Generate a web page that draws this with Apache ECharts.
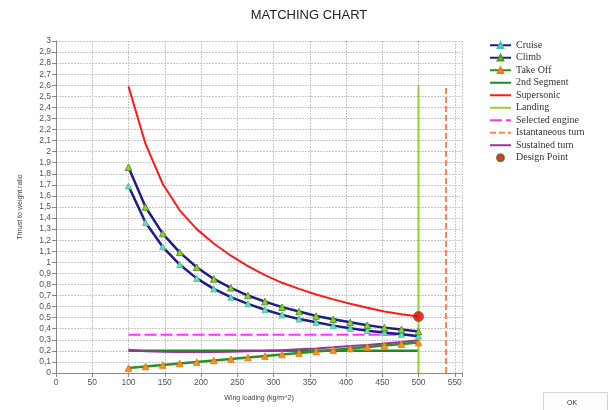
<!DOCTYPE html>
<html>
<head>
<meta charset="utf-8">
<script src="https://cdn.jsdelivr.net/npm/echarts@6/dist/echarts.min.js"></script>
<style>
  html, body { margin: 0; padding: 0; background: #ffffff; }
  #chart { width: 608px; height: 410px; }
</style>
</head>
<body>
<div id="chart"></div>
<script>
// Wing loading stations (kg/m^2)
const wingLoading = [100, 123.5, 147.1, 170.6, 194.1, 217.6, 241.2, 264.7, 288.2,
                     311.8, 335.3, 358.8, 382.4, 405.9, 429.4, 452.9, 476.5, 500];

// Thrust-to-weight requirement of each constraint
const cruise     = [1.69, 1.36, 1.14, 0.98, 0.855, 0.76, 0.685, 0.625, 0.572,
                    0.525, 0.488, 0.458, 0.428, 0.404, 0.382, 0.366, 0.35, 0.333];
const climb      = [1.86, 1.50, 1.26, 1.09, 0.955, 0.85, 0.77, 0.70, 0.645,
                    0.595, 0.555, 0.515, 0.485, 0.458, 0.432, 0.41, 0.393, 0.375];
const takeOff    = [0.045, 0.059, 0.072, 0.086, 0.099, 0.113, 0.126, 0.14, 0.153,
                    0.167, 0.18, 0.194, 0.207, 0.221, 0.234, 0.248, 0.261, 0.275];
const supersonic = [2.59, 2.07, 1.71, 1.47, 1.30, 1.17, 1.06, 0.965, 0.885,
                    0.815, 0.76, 0.71, 0.665, 0.625, 0.59, 0.555, 0.53, 0.51];
const sustained  = [0.21, 0.197, 0.192, 0.19, 0.19, 0.19, 0.192, 0.196, 0.2,
                    0.206, 0.214, 0.222, 0.232, 0.243, 0.254, 0.266, 0.28, 0.295];

// Constant / vertical constraints
const secondSegmentTW = 0.2;
const selectedEngineTW = 0.345;
const landingWS = 500;
const instTurnWS = 538;
const verticalTop = 2.6;

// Chosen design point [W/S, T/W]
const designPoint = [500, 0.51];

// Axis tick settings
const xTicks = { min: 0, max: 560, step: 50 };
const yTicks = { min: 0, max: 3, step: 0.1 };

const pair = (xs, ys) => xs.map((x, i) => [x, ys[i]]);
const flat = (xs, v) => [[xs[0], v], [xs[xs.length - 1], v]];

const navy = '#1c1c8c';
const sans = 'Liberation Sans, Arial, sans-serif';

// legend entries: plain-line entries hide their symbol
const plain = name => ({ name, itemStyle: { opacity: 0 } });

const chart = echarts.init(document.getElementById('chart'), null, { renderer: 'canvas' });

const option = {
  backgroundColor: '#ffffff',
  animation: false,
  title: {
    text: 'MATCHING CHART',
    left: 304, top: 4, textAlign: 'center',
    textStyle: { fontFamily: sans, fontSize: 13, fontWeight: 'normal', color: '#222' }
  },
  grid: { left: 56, top: 41, right: 146, bottom: 37, containLabel: false },
  legend: {
    orient: 'vertical',
    left: 484, top: 34,
    itemWidth: 21, itemHeight: 7, itemGap: 0,
    textStyle: { fontFamily: 'Liberation Serif, Times New Roman, serif', fontSize: 10, color: '#333', lineHeight: 12.5 },
    data: [
      'Cruise', 'Climb', 'Take Off',
      plain('2nd Segment'), plain('Supersonic'), plain('Landing'),
      plain('Selected engine'), plain('Istantaneous turn'), plain('Sustained turn'),
      'Design Point'
    ]
  },
  xAxis: {
    type: 'value',
    min: xTicks.min, max: xTicks.max, interval: xTicks.step,
    name: 'Wing loading (kg/m^2)', nameLocation: 'middle', nameGap: 22,
    nameTextStyle: { fontFamily: sans, fontSize: 7, color: '#444' },
    axisLine: { onZero: false, lineStyle: { color: '#888', width: 1 } },
    axisTick: { show: true, length: 4, lineStyle: { color: '#888' } },
    axisLabel: {
      fontFamily: sans, fontSize: 8.5, color: '#555', margin: 5,
      formatter: v => (v > 550 ? '' : String(v))
    },
    splitLine: { show: true, lineStyle: { color: '#c8c8c8', type: [2, 1], width: 1 } }
  },
  yAxis: {
    type: 'value',
    min: yTicks.min, max: yTicks.max, interval: yTicks.step,
    name: 'Thrust to weight ratio', nameLocation: 'middle', nameGap: 32, nameRotate: 90,
    nameTextStyle: { fontFamily: sans, fontSize: 7, color: '#444' },
    axisLine: { show: true, lineStyle: { color: '#888', width: 1 } },
    axisTick: { show: true, length: 4, lineStyle: { color: '#888' } },
    axisLabel: {
      fontFamily: sans, fontSize: 8.5, color: '#555', margin: 5,
      formatter: v => String(Math.round(v * 10) / 10).replace('.', ',')
    },
    splitLine: { show: true, lineStyle: { color: '#c8c8c8', type: [2, 1], width: 1 } }
  },
  series: [
    {
      name: 'Cruise', type: 'line', data: pair(wingLoading, cruise),
      symbol: 'triangle', symbolSize: 6, showSymbol: true,
      lineStyle: { color: navy, width: 2.5 },
      itemStyle: { color: '#6fdcb8', borderColor: '#48c6a0', borderWidth: 1 },
      z: 3
    },
    {
      name: 'Climb', type: 'line', data: pair(wingLoading, climb),
      symbol: 'triangle', symbolSize: 6.5, showSymbol: true,
      lineStyle: { color: navy, width: 2.5 },
      itemStyle: { color: '#9acd32', borderColor: '#4e9a1c', borderWidth: 1 },
      z: 3
    },
    {
      name: 'Take Off', type: 'line', data: pair(wingLoading, takeOff),
      symbol: 'triangle', symbolSize: 6.5, showSymbol: true,
      lineStyle: { color: '#2a8f2a', width: 2.5 },
      itemStyle: { color: '#ff9020', borderColor: '#f07a10', borderWidth: 1 },
      z: 3
    },
    {
      name: '2nd Segment', type: 'line', data: flat(wingLoading, secondSegmentTW),
      symbol: 'none', lineStyle: { color: '#1f8a1f', width: 2.5 },
      itemStyle: { color: '#1f8a1f' }, z: 2
    },
    {
      name: 'Supersonic', type: 'line', data: pair(wingLoading, supersonic),
      symbol: 'none', lineStyle: { color: '#ff1a1a', width: 2 },
      itemStyle: { color: '#ff1a1a' }, z: 2
    },
    {
      name: 'Landing', type: 'line', data: [[landingWS, 0], [landingWS, verticalTop]],
      symbol: 'none', lineStyle: { color: '#9acd32', width: 2 },
      itemStyle: { color: '#9acd32' }, z: 2
    },
    {
      name: 'Selected engine', type: 'line', data: flat(wingLoading, selectedEngineTW),
      symbol: 'none', lineStyle: { color: '#ff33ff', width: 2, type: [12, 4] },
      itemStyle: { color: '#ff33ff' }, z: 2
    },
    {
      name: 'Istantaneous turn', type: 'line', data: [[instTurnWS, 0], [instTurnWS, verticalTop]],
      symbol: 'none', lineStyle: { color: '#ff7f50', width: 2, type: [6, 3] },
      itemStyle: { color: '#ff7f50' }, z: 2
    },
    {
      name: 'Sustained turn', type: 'line', data: pair(wingLoading, sustained),
      symbol: 'none', lineStyle: { color: '#993399', width: 2 },
      itemStyle: { color: '#993399' }, z: 2
    },
    {
      name: 'Design Point', type: 'scatter', data: [designPoint],
      symbol: 'circle', symbolSize: 10,
      itemStyle: { color: '#e80000', borderColor: '#4b6b20', borderWidth: 1 },
      z: 5
    }
  ],
  graphic: [
    {
      type: 'rect', left: 543, top: 392,
      shape: { width: 64, height: 22 },
      style: { fill: '#fdfdfd', stroke: '#d4d4d4', lineWidth: 1 }
    },
    {
      type: 'text', left: 567, top: 400,
      style: { text: 'OK', fontFamily: sans, fontSize: 7, fill: '#333' }
    }
  ]
};

chart.setOption(option);
</script>
</body>
</html>
